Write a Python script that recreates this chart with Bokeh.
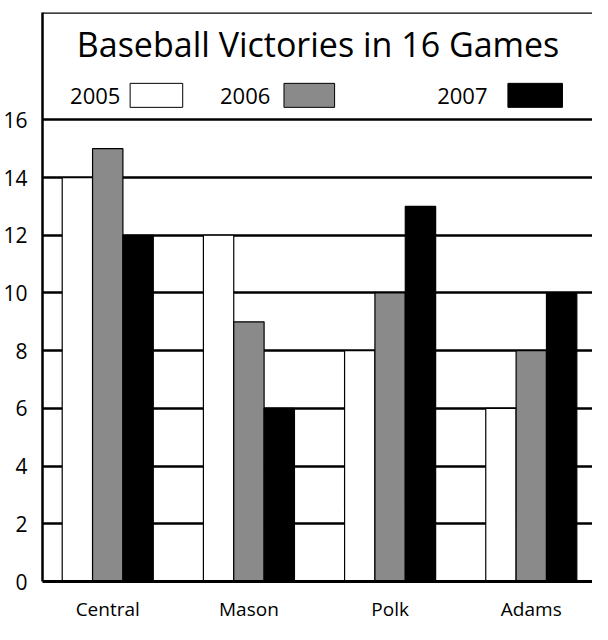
from bokeh.plotting import figure
from bokeh.models import (ColumnDataSource, Range1d, FixedTicker, Span, Label,
                          BoxAnnotation)
from bokeh.transform import dodge
from bokeh.embed import file_html
from bokeh.resources import INLINE

# ---- data ----
schools = ["Central", "Mason", "Polk", "Adams"]
years = ["2005", "2006", "2007"]
wins_2005 = [14, 12, 8, 6]
wins_2006 = [15, 9, 10, 8]
wins_2007 = [12, 6, 13, 10]
y_ticks = [0, 2, 4, 6, 8, 10, 12, 14, 16]
title_text = "Baseball Victories in 16 Games"

FONT = "Open Sans"
W, H = 592, 624
SX, SY = W / 608.0, H / 640.0          # reference-pixel -> figure-pixel
REF_TOP, REF_16, REF_0, REF_LEFT = 12, 124, 605, 43
REF_CAT = 145.0                          # px per category in reference
REF_FIRST = 110.0                        # first category centre

BT = round(REF_TOP * SY)
BL = round(REF_LEFT * SX)
BB = H - round(REF_0 * SY)
BR = 0
fw = W - BL - BR
fh = H - BT - BB
ppu = (REF_0 - REF_16) * SY / 16.0
upx = REF_CAT * SX
X0 = -(REF_FIRST - REF_LEFT) * SX / upx
X1 = X0 + fw / upx
Y0 = 0
Y1 = fh / ppu

src = ColumnDataSource(dict(x=list(range(len(schools))), y2005=wins_2005,
                            y2006=wins_2006, y2007=wins_2007))

p = figure(width=W, height=H, output_backend="svg", toolbar_location=None,
           x_range=Range1d(X0, X1), y_range=Range1d(Y0, Y1),
           min_border_left=BL, min_border_right=BR, min_border_top=BT,
           min_border_bottom=BB)
p.outline_line_color = None
p.background_fill_color = "white"
p.border_fill_color = "white"

# reference-pixel -> data helpers (for decoration placement)
def dx(rx):
    return X0 + (rx - REF_LEFT) * SX / upx
def dy(ry):
    return (REF_0 - ry) * SY / ppu

bw = 0.215
colors = ["white", "#8a8a8a", "black"]
for yr, off, col in zip(years, [-bw, 0, bw], colors):
    p.vbar(x=dodge("x", off), top="y" + yr, width=bw, bottom=0, source=src,
           fill_color=col, line_color="black", line_width=1.2)

p.xgrid.grid_line_color = None
p.ygrid.ticker = FixedTicker(ticks=y_ticks)
p.ygrid.grid_line_color = "black"
p.ygrid.grid_line_width = 2.5
p.ygrid.level = "underlay"

p.add_layout(Span(location=Y1, dimension="width", line_color="black",
                  line_width=2.5))

p.yaxis.ticker = FixedTicker(ticks=y_ticks)
p.yaxis.major_tick_line_color = None
p.yaxis.minor_tick_line_color = None
p.yaxis.axis_line_width = 2.5
p.yaxis.major_label_text_font = FONT
p.yaxis.major_label_text_font_size = "21px"
p.yaxis.major_label_text_color = "black"
p.yaxis.major_label_standoff = 9

p.xaxis.ticker = FixedTicker(ticks=list(range(len(schools))))
p.xaxis.major_label_overrides = {i: s for i, s in enumerate(schools)}
p.xaxis.major_tick_line_color = None
p.xaxis.minor_tick_line_color = None
p.xaxis.axis_line_width = 3
p.xaxis.major_label_text_font = FONT
p.xaxis.major_label_text_font_size = "19px"
p.xaxis.major_label_text_color = "black"
p.xaxis.major_label_standoff = 8

p.add_layout(Label(x=dx(326), y=dy(45), text=title_text,
                   text_font=FONT, text_font_size="34px", text_color="black",
                   text_align="center", text_baseline="middle"))

leg = [(123, 133, 187), (277, 291, 343), (500, 521, 577)]
for yr, col, (tx, b0, b1) in zip(years, colors, leg):
    p.add_layout(Label(x=dx(tx), y=dy(99), text=yr, text_font=FONT,
                       text_font_size="22px", text_color="black",
                       text_align="right", text_baseline="middle"))
    p.add_layout(BoxAnnotation(left=dx(b0), right=dx(b1), top=dy(86),
                               bottom=dy(111), fill_color=col, fill_alpha=1,
                               line_color="black", line_width=1,
                               line_alpha=1, level="overlay"))

open("out.html", "w").write(file_html(p, INLINE))
